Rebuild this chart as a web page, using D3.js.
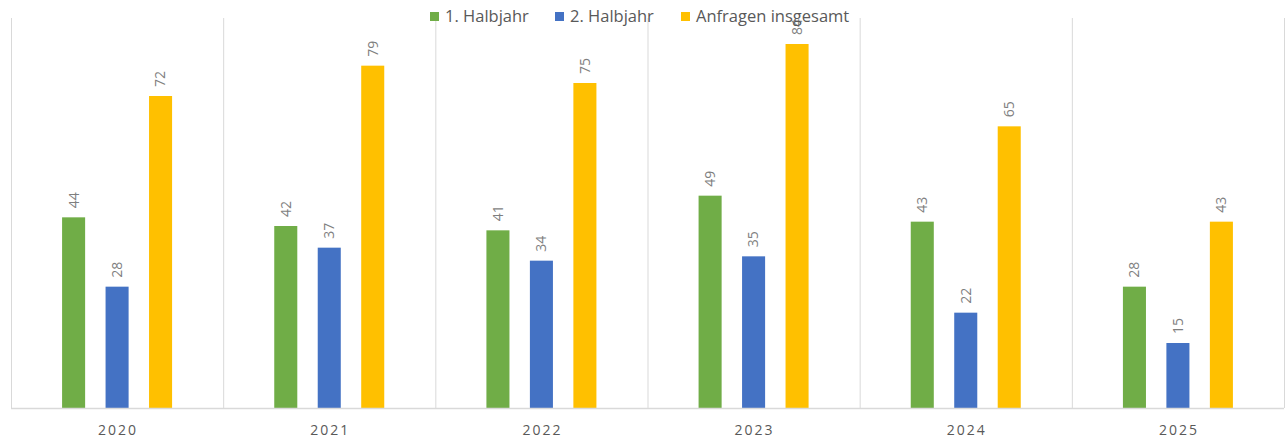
<!DOCTYPE html>
<html>
<head>
<meta charset="utf-8">
<script src="https://cdn.jsdelivr.net/npm/d3@7"></script>
<style>
  body { margin: 0; background: #fff; }
  svg { display: block; }
</style>
</head>
<body>
<div id="chart"></div>
<script>
var years = ["2020", "2021", "2022", "2023", "2024", "2025"];
var seriesNames = ["1. Halbjahr", "2. Halbjahr", "Anfragen insgesamt"];
var halbjahr1 = [44, 42, 41, 49, 43, 28];
var halbjahr2 = [28, 37, 34, 35, 22, 15];
var gesamt = [72, 79, 75, 84, 65, 43];
var colors = ["#70ad47", "#4472c4", "#ffc000"];

var w = 1286;
var h = 439;
var margin = {top: 18, right: 2, bottom: 31, left: 11};

var svg = d3.select("#chart")
            .append("svg")
            .attr("width", w)
            .attr("height", h);

var x = d3.scaleBand()
    .domain(years)
    .range([margin.left, w - margin.right]);

// bars 23px wide, 43.5px apart
var inner = d3.scaleBand()
    .domain(seriesNames)
    .range([x.bandwidth() / 2 - 55, x.bandwidth() / 2 + 55])
    .paddingInner(0.47);

var y = d3.scaleLinear()
    .domain([0, 90])
    .range([h - margin.bottom, margin.top]);

// vertical separators between categories
var seps = years.map(function (d) { return x(d); }).concat([w - margin.right]);
svg.append("g")
    .selectAll("line")
    .data(seps)
    .join("line")
    .attr("x1", function (d) { return d + 0.5; })
    .attr("x2", function (d) { return d + 0.5; })
    .attr("y1", y(90))
    .attr("y2", y(0))
    .style("stroke", "#d9d9d9")
    .style("stroke-width", 1);

var data = [halbjahr1, halbjahr2, gesamt];

var groups = svg.append("g")
    .selectAll("g")
    .data(years)
    .join("g")
    .attr("transform", function (d) { return "translate(" + x(d) + ",0)"; });

groups.each(function (yr, i) {
    var g = d3.select(this);
    seriesNames.forEach(function (s, k) {
        var v = data[k][i];
        g.append("rect")
            .attr("x", inner(s))
            .attr("y", y(v))
            .attr("width", inner.bandwidth())
            .attr("height", y(0) - y(v))
            .style("fill", colors[k]);
        var cx = inner(s) + inner.bandwidth() / 2;
        g.append("text")
            .attr("transform", "translate(" + cx + "," + (y(v) - 9) + ")rotate(-90)")
            .attr("dy", "0.35em")
            .attr("text-anchor", "start")
            .attr("font-family", "Open Sans, sans-serif")
            .attr("font-size", 14)
            .style("fill", "#7f7f7f")
            .text(v);
    });
});

// baseline
svg.append("line")
    .attr("x1", margin.left)
    .attr("x2", w - margin.right)
    .attr("y1", y(0) + 0.5)
    .attr("y2", y(0) + 0.5)
    .style("stroke", "#d9d9d9")
    .style("stroke-width", 1.5);

// x labels
svg.append("g")
    .selectAll("text")
    .data(years)
    .join("text")
    .attr("x", function (d) { return x(d) + x.bandwidth() / 2 + 1; })
    .attr("y", 435)
    .attr("text-anchor", "middle")
    .attr("font-family", "Open Sans, sans-serif")
    .attr("font-size", 14)
    .attr("letter-spacing", "2px")
    .style("fill", "#595959")
    .text(function (d) { return d; });

// legend
var legendX = [430, 555, 681];
var legend = svg.append("g")
    .selectAll("g")
    .data(seriesNames)
    .join("g")
    .attr("transform", function (d, i) { return "translate(" + legendX[i] + ",0)"; });

legend.append("rect")
    .attr("x", 0)
    .attr("y", 12)
    .attr("width", 9)
    .attr("height", 9)
    .style("fill", function (d, i) { return colors[i]; });

legend.append("text")
    .attr("x", 15)
    .attr("y", 22)
    .attr("font-family", "Open Sans, sans-serif")
    .attr("font-size", 16.5)
    .style("fill", "#595959")
    .text(function (d) { return d; });
</script>
</body>
</html>
